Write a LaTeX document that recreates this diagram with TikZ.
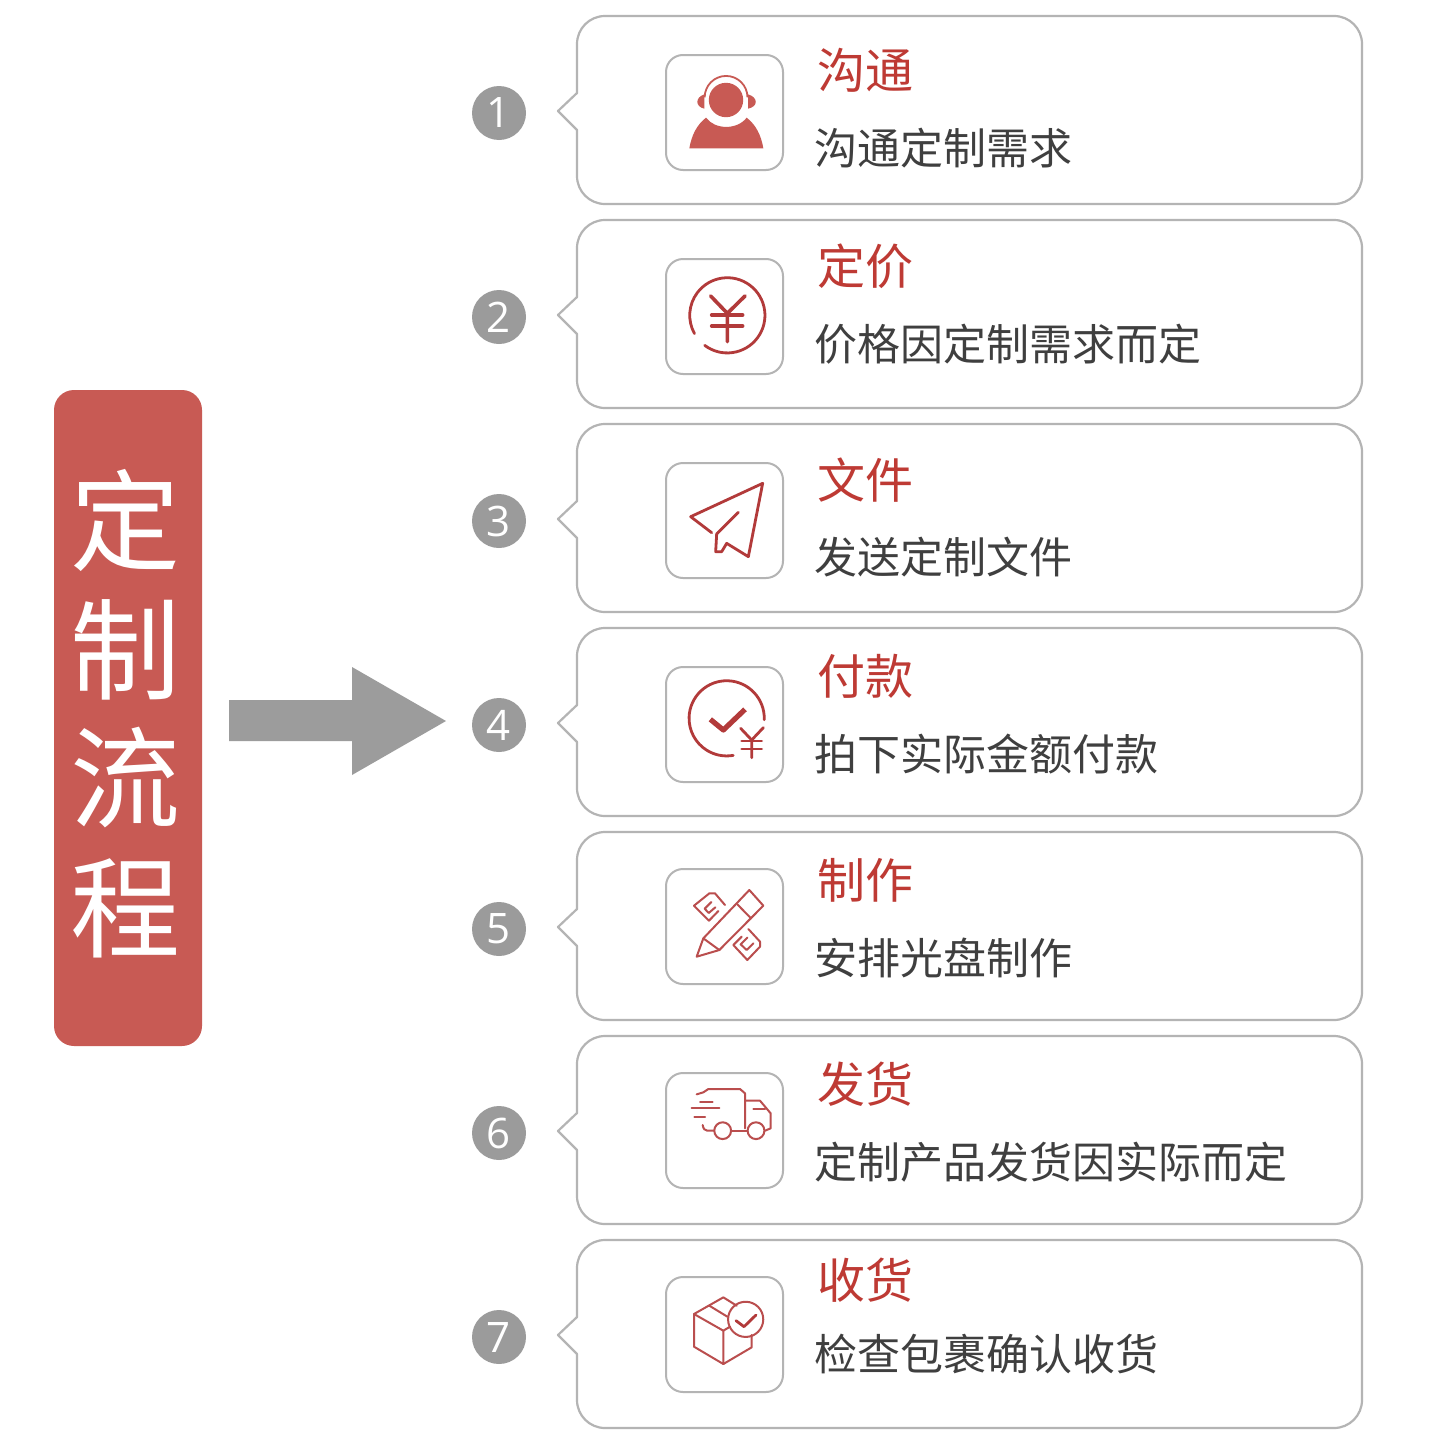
\documentclass[tikz,border=0pt]{standalone}
\usepackage{fontspec}
\setmainfont{Noto Sans CJK SC}
\newfontfamily\numfont{Open Sans}
\definecolor{mainred}{HTML}{C85A54}
\definecolor{titlered}{HTML}{BE3A34}
\definecolor{iconred}{HTML}{B23A3A}
\definecolor{linegray}{HTML}{B4B4B4}
\definecolor{numgray}{HTML}{9B9B9B}
\definecolor{arrowgray}{HTML}{9C9C9C}
\definecolor{subtext}{HTML}{3F3F3F}
\tikzset{
  cardline/.style={draw=linegray,line width=1.1pt,fill=white,line join=round},
  iconbox/.style={draw=linegray,line width=1pt,rounded corners=8.5pt,minimum width=58.5pt,minimum height=57.5pt,inner sep=0pt,fill=white},
  numdot/.style={circle,fill=numgray,minimum size=27pt,inner sep=0pt,text=white,font=\numfont\fontsize{21}{21}\selectfont},
  titletext/.style={anchor=west,inner sep=0pt,text=titlered,font=\fontsize{24}{24}\selectfont},
  subtitle/.style={anchor=west,inner sep=0pt,text=subtext,font=\fontsize{21.5}{22}\selectfont},
  bigtext/.style={inner sep=0pt,text=white,font=\fontsize{55}{55}\selectfont},
  icon/.style={draw=iconred,line width=1.4pt,line cap=round,line join=round},
  thin icon/.style={draw=iconred!90,line width=1pt,line cap=round,line join=round},
  zoomed/.style={x=.1666667pt,y=-.1666667pt},
}
\begin{document}
\begin{tikzpicture}[x=.5pt,y=-.5pt]
\useasboundingbox[fill=white] (0,0) rectangle (1440,1440);
% left label
\node[fill=mainred,rounded corners=10pt,minimum width=74pt,minimum height=328pt,inner sep=0pt] (label) at (128,718) {};
\node[bigtext] (c1) at (125,520) {定};
\node[bigtext] (c2) at (125,650) {制};
\node[bigtext] (c3) at (125,778) {流};
\node[bigtext] (c4) at (125,908) {程};
% block arrow
\fill[arrowgray] (229,700) -- (352,700) -- (352,667) -- (446,721) -- (352,775) -- (352,741) -- (229,741) -- cycle;
% cards
\foreach \n/\y/\b/\ty/\sy/\ttl/\st in {
 1/16/55/70/148/沟通/沟通定制需求,
 2/220/259/266/344/定价/价格因定制需求而定,
 3/424/463/480/557/文件/发送定制文件,
 4/628/667/676/754/付款/拍下实际金额付款,
 5/832/869/880/958/制作/安排光盘制作,
 6/1036/1073/1084/1162/发货/定制产品发货因实际而定,
 7/1240/1277/1280/1354/收货/检查包裹确认收货}{
  \draw[cardline] (577,\y+114) -- (577,\y+160)
     arc[start angle=180,end angle=270,radius=14pt] -- (1334,\y+188)
     arc[start angle=270,end angle=360,radius=14pt] -- (1362,\y+28)
     arc[start angle=0,end angle=90,radius=14pt] -- (605,\y)
     arc[start angle=90,end angle=180,radius=14pt] -- (577,\y+77)
     -- (558,\y+95) -- cycle;
  \node[numdot] (num\n) at (499,\y+97) {\n};
  \node[iconbox] (box\n) at (724.5,\b+57.5) {};
  \node[titletext] (title\n) at (817.5,\ty) {\ttl};
  \node[subtitle] (sub\n) at (814.5,\sy) {\st};
}
% icon 1: headset person
\begin{scope}[shift={(460,10)},zoomed]
  \fill[mainred] (798,270) circle[radius=8.6pt];
  \draw[mainred,line width=.9pt] (734,262) arc[start angle=180,end angle=0,radius=10.7pt];
  \fill[mainred] (733,253) .. controls (705,262) and (705,290) .. (733,296) -- cycle;
  \fill[mainred] (864,253) .. controls (895,262) and (895,290) .. (864,296) -- cycle;
  \fill[mainred] (688,415) .. controls (695,375) and (710,345) .. (738,323)
     .. controls (765,360) and (832,360) .. (860,323)
     .. controls (888,345) and (903,375) .. (910,415) -- cycle;
\end{scope}
% icon 2: yuan in circle
\begin{scope}[shift={(650,250)},zoomed]
  \draw[icon] (232,196) ++(233:18.8pt) arc[start angle=233,end angle=569,radius=18.8pt];
  \draw[icon,line width=1.8pt] (182,138) -- (232,190) -- (285,138) (232,190) -- (232,275);
  \draw[icon,line width=1.8pt] (185,195) -- (278,195) (185,228) -- (278,228);
\end{scope}
% icon 3: paper plane
\begin{scope}[shift={(650,250)},zoomed]
  \draw[icon] (185,848) -- (122,800) -- (338,700) -- (295,920) -- (230,880) -- (215,905) -- (197,905) -- (200,852) -- (265,787);
\end{scope}
% icon 4: payment check
\begin{scope}[shift={(650,655)},zoomed]
  \draw[icon] (230,190) ++(-2:18.8pt) arc[start angle=-2,end angle=280,radius=18.8pt];
  \draw[icon,line width=2.6pt,line cap=butt] (181,193) -- (220,225) -- (285,163);
  \draw[icon] (272,220) -- (305,255) -- (340,218) (305,255) -- (305,308);
  \draw[icon] (275,258) -- (335,258) (275,282) -- (335,282);
\end{scope}
% icon 5: pencil and ruler
\begin{scope}[shift={(650,655)},zoomed]
  \draw[thin icon] (140,905) -- (160,850) -- (298,705) -- (340,752) -- (208,885) -- cycle;
  \draw[thin icon] (262,748) -- (303,790) (160,850) -- (208,885);
  \draw[thin icon] (225,750) -- (195,715) -- (178,715) -- (132,752) -- (177,797) -- (205,768);
  \draw[thin icon] (184,741) -- (164,761) -- (176,774) -- (196,757);
  \draw[thin icon] (295,822) -- (330,860) -- (330,875) -- (292,915) -- (250,870) -- (275,845);
  \draw[thin icon] (292,848) -- (272,868) -- (290,885) -- (310,865);
\end{scope}
% icon 6: truck
\begin{scope}[shift={(650,1060)},zoomed]
  \draw[thin icon] (140,103) -- (160,97) -- (175,87) -- (270,87) -- (285,100) -- (285,205);
  \draw[thin icon] (285,122) -- (330,122) -- (362,160) -- (362,205) -- (345,212);
  \draw[thin icon] (245,212) -- (292,212);
  \draw[thin icon] (158,195) .. controls (160,207) and (165,212) .. (172,212) -- (192,212);
  \draw[thin icon] (218,212) circle[radius=4.2pt] (318,212) circle[radius=4.2pt];
  \draw[thin icon] (150,125) -- (188,125) (125,145) -- (208,145) (133,172) -- (165,172) (310,148) -- (345,148);
\end{scope}
% icon 7: parcel
\begin{scope}[shift={(650,1060)},zoomed]
  \draw[thin icon] (240,800) -- (220,812) -- (132,762) -- (220,712) -- (260,737);
  \draw[thin icon] (178,737) -- (232,770);
  \draw[thin icon] (220,812) -- (220,912) -- (132,860) -- (132,762);
  \draw[thin icon] (220,912) -- (305,862) -- (305,825);
  \draw[thin icon] (287,778) circle[radius=8.8pt];
  \draw[icon] (258,782) -- (282,800) -- (318,765);
\end{scope}
\end{tikzpicture}
\end{document}
